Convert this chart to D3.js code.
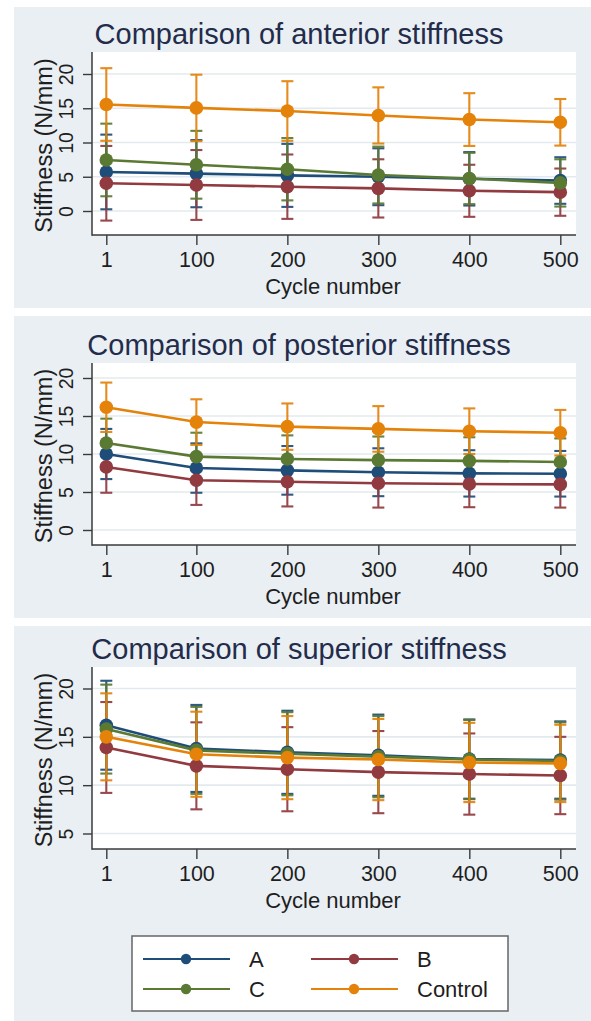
<!DOCTYPE html>
<html>
<head>
<meta charset="utf-8">
<script src="https://cdn.jsdelivr.net/npm/d3@7"></script>
<style>
  html, body { margin: 0; padding: 0; background: #ffffff; }
  svg { display: block; font-family: "Liberation Sans", Arial, Helvetica, sans-serif; }
</style>
</head>
<body>
<div id="chart"></div>
<script>
//////////////////////data//////////////////////
var cycles = [1, 100, 200, 300, 400, 500];
var groups = ["A", "B", "C", "Control"];
var titles = ["Comparison of anterior stiffness", "Comparison of posterior stiffness", "Comparison of superior stiffness"];
var yTicksAP = [0, 5, 10, 15, 20];
var yTicksSup = [5, 10, 15, 20];

//anterior mean / sd
var ant_A = [5.7, 5.45, 5.2, 5.0, 4.7, 4.45];
var ant_A_sd = [5.45, 4.9, 4.6, 4.15, 3.9, 3.4];
var ant_B = [4.05, 3.8, 3.55, 3.3, 2.95, 2.75];
var ant_B_sd = [5.45, 5.1, 4.7, 4.25, 3.8, 3.45];
var ant_C = [7.45, 6.75, 6.1, 5.25, 4.75, 4.1];
var ant_C_sd = [5.3, 4.95, 4.55, 4.15, 3.75, 3.45];
var ant_Ctrl = [15.55, 15.05, 14.6, 13.95, 13.35, 12.95];
var ant_Ctrl_sd = [5.3, 4.85, 4.35, 4.1, 3.85, 3.4];

//posterior mean / sd
var post_A = [10.0, 8.15, 7.85, 7.6, 7.45, 7.4];
var post_A_sd = [3.3, 3.25, 3.2, 3.15, 3.05, 3.0];
var post_B = [8.3, 6.55, 6.35, 6.15, 6.05, 6.0];
var post_B_sd = [3.4, 3.25, 3.25, 3.2, 3.05, 3.05];
var post_C = [11.45, 9.65, 9.35, 9.2, 9.1, 8.95];
var post_C_sd = [3.2, 3.15, 3.1, 3.1, 3.1, 3.1];
var post_Ctrl = [16.15, 14.2, 13.6, 13.3, 13.0, 12.8];
var post_Ctrl_sd = [3.25, 3.0, 3.05, 3.0, 3.0, 3.0];

//superior mean / sd
var sup_A = [16.2, 13.8, 13.4, 13.1, 12.7, 12.6];
var sup_A_sd = [4.6, 4.5, 4.3, 4.2, 4.1, 4.0];
var sup_B = [13.9, 12.0, 11.65, 11.35, 11.15, 11.0];
var sup_B_sd = [4.7, 4.5, 4.35, 4.25, 4.2, 4.0];
var sup_C = [15.8, 13.6, 13.25, 12.95, 12.65, 12.5];
var sup_C_sd = [4.6, 4.5, 4.3, 4.2, 4.1, 4.0];
var sup_Ctrl = [15.0, 13.2, 12.85, 12.65, 12.35, 12.25];
var sup_Ctrl_sd = [4.5, 4.4, 4.3, 4.2, 4.1, 4.0];

//////////////////////style//////////////////////
var colors = ["#1f4d7a", "#913a40", "#5a7a33", "#e4820a"];
var bgColor = "#e9eff3";
var gridColor = "#e3eaee";
var textColor = "#1e1e1e";
var titleColor = "#232c4b";

var W = 591, H = 1021;
var plotLeft = 92, plotRight = 576;

//パネル配置
var panels = [
    {title: titles[0], bgTop: 7, bgBottom: 308, top: 52, bottom: 235, ref: [0, 20], refPx: [211, 74], ticks: yTicksAP,
     mean: [ant_A, ant_B, ant_C, ant_Ctrl], sd: [ant_A_sd, ant_B_sd, ant_C_sd, ant_Ctrl_sd]},
    {title: titles[1], bgTop: 316, bgBottom: 618, top: 363, bottom: 545, ref: [0, 20], refPx: [530, 378], ticks: yTicksAP,
     mean: [post_A, post_B, post_C, post_Ctrl], sd: [post_A_sd, post_B_sd, post_C_sd, post_Ctrl_sd]},
    {title: titles[2], bgTop: 626, bgBottom: 1021, top: 667, bottom: 849, ref: [5, 20], refPx: [833.5, 688.5], ticks: yTicksSup,
     mean: [sup_A, sup_B, sup_C, sup_Ctrl], sd: [sup_A_sd, sup_B_sd, sup_C_sd, sup_Ctrl_sd]}
];

var svg = d3.select("#chart").append("svg").attr("width", W).attr("height", H);
svg.append("rect").attr("width", W).attr("height", H).attr("fill", "#ffffff");

var xScale = d3.scaleLinear().domain([1, 500]).range([106.3, 560.3]);

panels.forEach(function (p) {
    var g = svg.append("g");
    var yScale = d3.scaleLinear().domain(p.ref).range(p.refPx);

    //背景
    g.append("rect").attr("x", 14).attr("y", p.bgTop).attr("width", W - 14).attr("height", p.bgBottom - p.bgTop).attr("fill", bgColor);
    g.append("rect").attr("x", plotLeft).attr("y", p.top).attr("width", plotRight - plotLeft).attr("height", p.bottom - p.top).attr("fill", "#ffffff");

    //グリッド
    g.append("g").selectAll("line").data(p.ticks).enter().append("line")
        .attr("x1", plotLeft).attr("x2", plotRight)
        .attr("y1", function (d) { return yScale(d); })
        .attr("y2", function (d) { return yScale(d); })
        .attr("stroke", gridColor).attr("stroke-width", 1.6);

    //タイトル
    g.append("text").attr("x", 299).attr("y", p.top - 8).attr("text-anchor", "middle")
        .attr("font-size", 29).attr("fill", titleColor).text(p.title);

    //y軸
    var yAxis = g.append("g").attr("transform", "translate(" + plotLeft + ",0)")
        .call(d3.axisLeft(yScale).tickValues(p.ticks).tickSize(9).tickFormat(d3.format("d")));
    yAxis.select(".domain").remove();
    yAxis.selectAll(".tick line").attr("stroke", "#3a3a3a").attr("stroke-width", 1.4);
    yAxis.selectAll(".tick text")
        .attr("x", null).attr("dy", null)
        .attr("transform", "translate(-19,0) rotate(-90)")
        .attr("text-anchor", "middle")
        .attr("font-size", 19.5).attr("fill", textColor);

    g.append("text")
        .attr("transform", "translate(52," + ((p.top + p.bottom) / 2 + 2) + ") rotate(-90)")
        .attr("text-anchor", "middle").attr("font-size", 23.5).attr("fill", textColor)
        .text("Stiffness (N/mm)");

    //x軸
    var xAxis = g.append("g").attr("transform", "translate(0," + p.bottom + ")")
        .call(d3.axisBottom(xScale).tickValues(cycles).tickSize(10).tickFormat(d3.format("d")));
    xAxis.select(".domain").remove();
    xAxis.selectAll(".tick line").attr("stroke", "#3a3a3a").attr("stroke-width", 1.4);
    xAxis.selectAll(".tick text").attr("y", 32).attr("dy", null)
        .attr("font-size", 21.5).attr("fill", textColor);

    g.append("text").attr("x", 333).attr("y", p.bottom + 59).attr("text-anchor", "middle")
        .attr("font-size", 22).attr("fill", textColor).text("Cycle number");

    //軸線
    g.append("line").attr("x1", plotLeft).attr("x2", plotLeft).attr("y1", p.top).attr("y2", p.bottom + 0.7)
        .attr("stroke", "#3a3a3a").attr("stroke-width", 1.5);
    g.append("line").attr("x1", plotLeft).attr("x2", plotRight).attr("y1", p.bottom).attr("y2", p.bottom)
        .attr("stroke", "#3a3a3a").attr("stroke-width", 1.5);

    //エラーバー
    var capW = 6;
    groups.forEach(function (grp, k) {
        var rows = cycles.map(function (c, i) { return {c: c, m: p.mean[k][i], s: p.sd[k][i]}; });
        var eb = g.append("g").attr("stroke", colors[k]).attr("stroke-width", 2.1).attr("opacity", 0.92);
        eb.selectAll("line.v").data(rows).enter().append("line").attr("class", "v")
            .attr("x1", function (d) { return xScale(d.c); }).attr("x2", function (d) { return xScale(d.c); })
            .attr("y1", function (d) { return yScale(d.m - d.s); }).attr("y2", function (d) { return yScale(d.m + d.s); });
        eb.selectAll("line.hi").data(rows).enter().append("line").attr("class", "hi")
            .attr("x1", function (d) { return xScale(d.c) - capW; }).attr("x2", function (d) { return xScale(d.c) + capW; })
            .attr("y1", function (d) { return yScale(d.m + d.s); }).attr("y2", function (d) { return yScale(d.m + d.s); });
        eb.selectAll("line.lo").data(rows).enter().append("line").attr("class", "lo")
            .attr("x1", function (d) { return xScale(d.c) - capW; }).attr("x2", function (d) { return xScale(d.c) + capW; })
            .attr("y1", function (d) { return yScale(d.m - d.s); }).attr("y2", function (d) { return yScale(d.m - d.s); });
    });

    //折れ線とマーカー
    groups.forEach(function (grp, k) {
        var rows = cycles.map(function (c, i) { return {c: c, m: p.mean[k][i]}; });
        var line = d3.line().x(function (d) { return xScale(d.c); }).y(function (d) { return yScale(d.m); });
        g.append("path").datum(rows).attr("d", line).attr("fill", "none")
            .attr("stroke", colors[k]).attr("stroke-width", 2.6);
        g.append("g").selectAll("circle").data(rows).enter().append("circle")
            .attr("cx", function (d) { return xScale(d.c); })
            .attr("cy", function (d) { return yScale(d.m); })
            .attr("r", 6.8).attr("fill", colors[k]);
    });
});

//////////////////////legend//////////////////////
var lg = svg.append("g");
lg.append("rect").attr("x", 132).attr("y", 936).attr("width", 376).attr("height", 75)
    .attr("fill", "#ffffff").attr("stroke", "#666666").attr("stroke-width", 1.5);

var legendPos = [
    {x: 143, y: 959}, {x: 311, y: 959},
    {x: 143, y: 989}, {x: 311, y: 989}
];
groups.forEach(function (grp, k) {
    var pos = legendPos[k];
    lg.append("line").attr("x1", pos.x).attr("x2", pos.x + 87).attr("y1", pos.y).attr("y2", pos.y)
        .attr("stroke", colors[k]).attr("stroke-width", 2);
    lg.append("circle").attr("cx", pos.x + 43).attr("cy", pos.y).attr("r", 5.2).attr("fill", colors[k]);
    lg.append("text").attr("x", pos.x + 106).attr("y", pos.y + 8).attr("font-size", 22)
        .attr("fill", textColor).text(grp);
});
</script>
</body>
</html>
